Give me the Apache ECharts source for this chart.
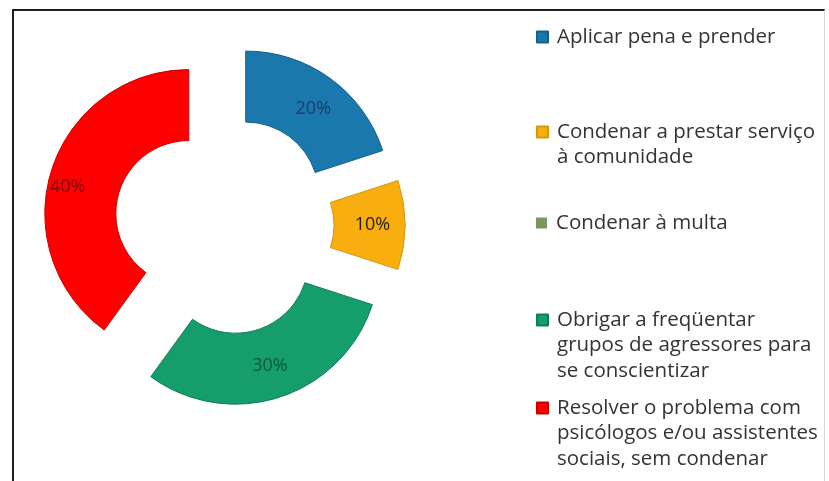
<!DOCTYPE html>
<html>
<head>
<meta charset="utf-8">
<script src="https://cdn.jsdelivr.net/npm/echarts@6/dist/echarts.min.js"></script>
<style>
  html, body { margin: 0; padding: 0; background: #ffffff; }
  #frame { position: absolute; left: 12px; top: 9px; width: 810px; height: 480px;
           border-left: 2px solid #1e1e1e; border-top: 2px solid #1e1e1e; border-right: 1px solid #d8d8d8; }
  #chart { position: absolute; left: 0; top: 0; width: 829px; height: 481px; }
</style>
</head>
<body>
<div id="frame"></div>
<div id="chart"></div>
<script>
// ---- data ----
const categories = [
  "Aplicar pena e prender",
  "Condenar a prestar serviço\nà comunidade",
  "Condenar à multa",
  "Obrigar a freqüentar\ngrupos de agressores para\nse conscientizar",
  "Resolver o problema com\npsicólogos e/ou assistentes\nsociais, sem condenar"
];
const percentValues = [20, 10, 0, 30, 40];

// ---- styles ----
const fillColors   = ["#1b78ad", "#f9ae10", "#7b9760", "#159e6c", "#fe0000"];
const borderColors = ["#165f8a", "#d8950e", "#62794c", "#107c55", "#c80000"];
const labelColors  = ["#1c3d6e", "#262010", "#444444", "#0e5a3a", "#7a0d0d"];
const labelPaddings = [[0, 0, 0, 4], [0, 0, 0, 0], [0, 0, 0, 0], [0, 0, 0, 0], [0, 30, 0, 0]];
const labelDownShift = [4, 0, 0, 0, 8];   // px, via a blank leading line
const legendFirstLineCenters = [37, 132, 223, 320, 408];

const LH = 25.5;
const FONT = "'Open Sans', 'Liberation Sans', sans-serif";

const pieData = categories.map((name, i) => {
  const lbl = { color: labelColors[i], show: percentValues[i] > 0, padding: labelPaddings[i] };
  if (labelDownShift[i] > 0) {
    lbl.formatter = '\n{c}%';
    lbl.lineHeight = labelDownShift[i] * 2;
  }
  return {
    name: name,
    value: percentValues[i],
    selected: true,
    itemStyle: { color: fillColors[i], borderColor: borderColors[i], borderWidth: percentValues[i] > 0 ? 1 : 0 },
    select: { itemStyle: { color: fillColors[i], borderColor: borderColors[i], borderWidth: percentValues[i] > 0 ? 1 : 0 } },
    label: lbl
  };
});

const legends = categories.map((name, i) => {
  const n = name.split("\n").length;
  return {
    data: [name],
    orient: 'vertical',
    left: 536,
    top: legendFirstLineCenters[i] - (2 * n - 1) * LH / 2,
    padding: 0,
    itemWidth: 11,
    itemHeight: 11,
    itemGap: 0,
    icon: 'rect',
    selectedMode: false,
    formatter: (nm) => "\n".repeat(n - 1) + nm,
    textStyle: {
      fontFamily: FONT,
      fontSize: 20.5,
      color: '#333333',
      lineHeight: LH,
      padding: [0, 0, 0, 4]
    }
  };
});

const chart = echarts.init(document.getElementById('chart'), null, { renderer: 'canvas' });
chart.setOption({
  animation: false,
  backgroundColor: 'transparent',
  legend: legends,
  series: [{
    type: 'pie',
    center: [224, 225],
    radius: [73, 144],
    startAngle: 90,
    clockwise: true,
    selectedMode: 'multiple',
    selectedOffset: 37,
    avoidLabelOverlap: false,
    label: {
      show: true,
      position: 'inside',
      formatter: '{c}%',
      fontFamily: FONT,
      fontSize: 18
    },
    labelLine: { show: false },
    emphasis: { disabled: true },
    data: pieData
  }]
});
</script>
</body>
</html>
